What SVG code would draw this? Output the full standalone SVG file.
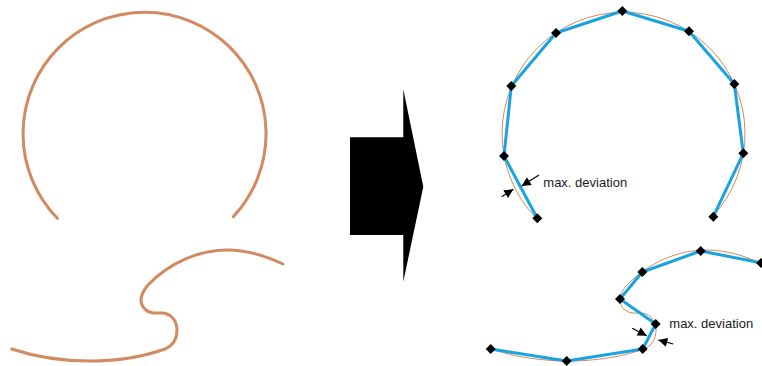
<svg xmlns="http://www.w3.org/2000/svg" width="762" height="366" viewBox="0 0 762 366">
<style>
.src{fill:none;stroke:#d28a60;stroke-width:3;stroke-linecap:round}
.thin{fill:none;stroke:#d28a60;stroke-width:1}
.poly{fill:none;stroke:#18a4e0;stroke-width:3;stroke-linejoin:round}
.lbl{font-family:"Liberation Sans",Arial,sans-serif;font-size:13px;fill:#1a1a1a}
.ann{stroke:#000;stroke-width:1.2;fill:none;marker-end:url(#ah)}
</style>
<defs>
<marker id="ah" viewBox="0 0 10 10" refX="10" refY="5" markerWidth="10" markerHeight="9" markerUnits="userSpaceOnUse" orient="auto">
<path d="M0,0 L10,5 L0,10 z" fill="#000"/>
</marker>
<path id="d" d="M0,-5 L5,0 L0,5 L-5,0 z" fill="#000"/>
<path id="arc" d="M57.3,218.3 A121.5,121.5 0 1 1 233.3,216.7"/>
<path id="wave" d="M11.7,349 C60,365 120,365 165,349 C172,346 177,340 177,330 C177,318 168,313 162,313 L155,313 C147,313 141,307 141,300 C141,294 144,290 148,285 C170,262 200,250 227,250 C250,250 268,257 283,264"/>
</defs>
<g id="source">
<use href="#arc" class="src"/>
<use href="#wave" class="src"/>
</g>
<g id="big-arrow">
<polygon points="350,137.3 403.3,137.3 403.3,89.3 423.3,186.7 403.3,281.7 403.3,235 350,235" fill="#000"/>
</g>
<g id="result">
<use href="#arc" class="thin" transform="translate(479,0)"/>
<use href="#wave" class="thin" transform="translate(479,0)"/>
<polyline class="poly" points="537.3,218.3 504,156 511.3,86 556,33 622.3,11 689,31.3 734.3,84 743.3,153.3 713.3,216.7"/>
<polyline class="poly" points="490.7,349 566.7,361 642.7,349 655.7,324 620,299 642.3,272 700.7,251 762,263"/>
<g id="vertices">
<use href="#d" x="537.3" y="218.3"/>
<use href="#d" x="504" y="156"/>
<use href="#d" x="511.3" y="86"/>
<use href="#d" x="556" y="33"/>
<use href="#d" x="622.3" y="11"/>
<use href="#d" x="689" y="31.3"/>
<use href="#d" x="734.3" y="84"/>
<use href="#d" x="743.3" y="153.3"/>
<use href="#d" x="713.3" y="216.7"/>
<use href="#d" x="490.7" y="349"/>
<use href="#d" x="566.7" y="361"/>
<use href="#d" x="642.7" y="349"/>
<use href="#d" x="655.7" y="324"/>
<use href="#d" x="620" y="299"/>
<use href="#d" x="642.3" y="272"/>
<use href="#d" x="700.7" y="251"/>
<use href="#d" x="761" y="263"/>
</g>
</g>
<g id="connectors">
<line class="ann" x1="539" y1="175" x2="521.7" y2="186"/>
<line class="ann" x1="501.7" y1="196.7" x2="513.3" y2="189.3"/>
<line class="ann" x1="632.3" y1="328.3" x2="646.7" y2="335.7"/>
<line class="ann" x1="673.3" y1="344" x2="658.3" y2="340"/>
</g>
<g id="labels">
<text class="lbl" x="543.3" y="187">max. deviation</text>
<text class="lbl" x="669.3" y="328.3">max. deviation</text>
</g>
</svg>
